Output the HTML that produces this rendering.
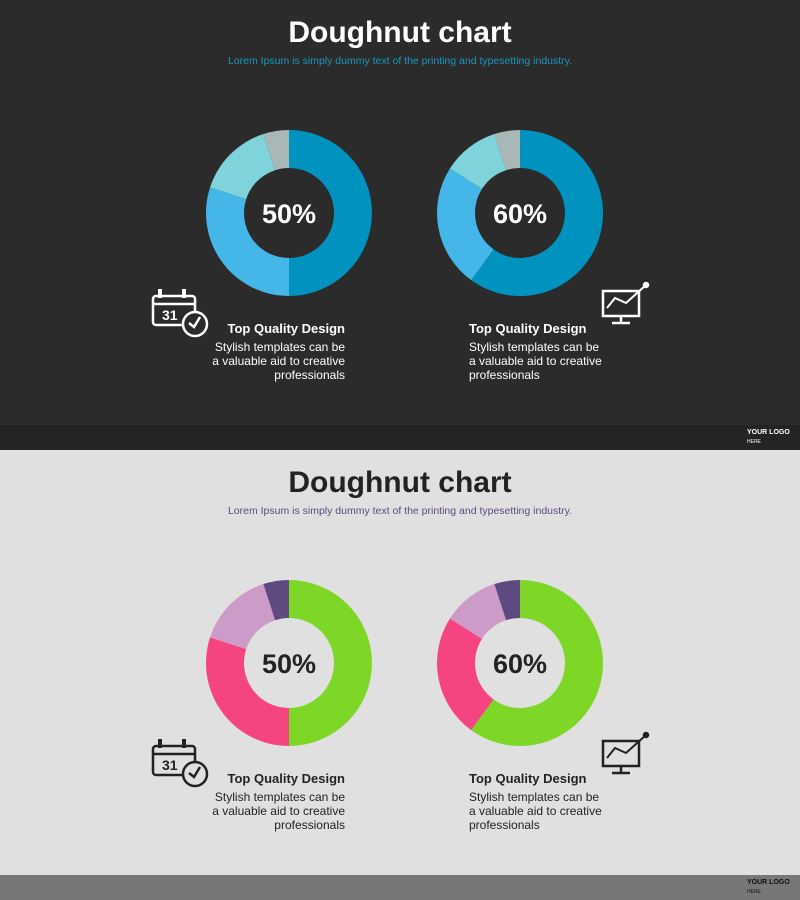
<!DOCTYPE html>
<html><head><meta charset="utf-8"><style>
body{margin:0;width:800px;height:900px;overflow:hidden;font-family:"Liberation Sans",sans-serif}
.slide{position:absolute;left:0;width:800px;height:450px}
.t{position:absolute;left:0;width:800px;text-align:center}
.title{top:16px;font-size:30px;font-weight:bold}
.sub{top:55px;font-size:10.5px}
.h{position:absolute;top:321px;font-size:13px;font-weight:bold}
.p{position:absolute;top:340px;font-size:12px;line-height:14px}
.logo{position:absolute;left:747px;font-size:7px;font-weight:bold;line-height:9px}
</style></head><body>
<div id="s1" class="slide" style="top:0;background:#2b2b2b">
<div class="t title" style="color:#fff">Doughnut chart</div>
<div class="t sub" style="color:#1a95bf">Lorem Ipsum is simply dummy text of the printing and typesetting industry.</div>
<div style="position:absolute;top:425px;left:0;width:800px;height:25px;background:#242424"></div>
<div class="logo" style="top:428px;color:#fff">YOUR LOGO<br><span style="font-weight:normal;font-size:5px">HERE</span></div>
<div class="h" style="right:455px;color:#fff">Top Quality Design</div>
<div class="p" style="right:455px;text-align:right;color:#fff">Stylish templates can be<br>a valuable aid to creative<br>professionals</div>
<div class="h" style="left:469px;color:#fff">Top Quality Design</div>
<div class="p" style="left:469px;color:#fff">Stylish templates can be<br>a valuable aid to creative<br>professionals</div>
</div>
<div id="s2" class="slide" style="top:450px;background:#e0e0e0">
<div class="t title" style="color:#222">Doughnut chart</div>
<div class="t sub" style="color:#5c4a7f">Lorem Ipsum is simply dummy text of the printing and typesetting industry.</div>
<div style="position:absolute;top:425px;left:0;width:800px;height:25px;background:#777"></div>
<div class="logo" style="top:428px;color:#111">YOUR LOGO<br><span style="font-weight:normal;font-size:5px">HERE</span></div>
<div class="h" style="right:455px;color:#222">Top Quality Design</div>
<div class="p" style="right:455px;text-align:right;color:#222">Stylish templates can be<br>a valuable aid to creative<br>professionals</div>
<div class="h" style="left:469px;color:#222">Top Quality Design</div>
<div class="p" style="left:469px;color:#222">Stylish templates can be<br>a valuable aid to creative<br>professionals</div>
</div>
<svg id="svg" width="800" height="900" style="position:absolute;left:0;top:0"></svg>
<script>
const chart1Values=[50,30,15,5];
const chart2Values=[60,24,11,5];
const centerLabels=["50%","60%"];
const darkColors=["#0093bf","#45b6e8","#7fd3da","#a9b7b7"];
const lightColors=["#7ed627","#f54580","#cc9bc8","#5e4a80"];
const NS="http://www.w3.org/2000/svg";
const svg=document.getElementById('svg');
function ang(v){return v/100*2*Math.PI;}
function pt(cx,cy,r,a){return [cx+r*Math.sin(a),cy-r*Math.cos(a)];}
function donut(cx,cy,vals,cols,label,tc,name){
  const R=83,r=45;let acc=0;
  vals.forEach((v,i)=>{
    const a0=ang(acc),a1=ang(acc+v);acc+=v;
    const p1=pt(cx,cy,R,a0),p2=pt(cx,cy,R,a1),p3=pt(cx,cy,r,a1),p4=pt(cx,cy,r,a0);
    const lg=(a1-a0)>Math.PI?1:0;
    const p=document.createElementNS(NS,'path');
    p.setAttribute('d',`M${p1} A${R},${R} 0 ${lg} 1 ${p2} L${p3} A${r},${r} 0 ${lg} 0 ${p4}Z`);
    p.setAttribute('fill',cols[i]);
    
    
    svg.appendChild(p);
  });
  const t=document.createElementNS(NS,'text');
  t.setAttribute('x',cx);t.setAttribute('y',cy+10);t.setAttribute('text-anchor','middle');
  t.setAttribute('font-family','Liberation Sans, sans-serif');t.setAttribute('font-size','27');
  t.setAttribute('font-weight','bold');t.setAttribute('fill',tc);t.textContent=label;
  
  
  svg.appendChild(t);
}
function icons(oy,c,bg){
  const g=document.createElementNS(NS,'g');
  
  
  g.innerHTML=`<g transform="translate(0,${oy})" fill="none" stroke="${c}" stroke-width="2.5">
  <rect x="153" y="296" width="42" height="29" rx="3"/><line x1="153" y1="304" x2="195" y2="304"/>
  <line x1="160" y1="289" x2="160" y2="298" stroke-width="4"/><line x1="184" y1="289" x2="184" y2="298" stroke-width="4"/>
  <text x="162" y="320" font-family="Liberation Sans" font-weight="bold" font-size="14" fill="${c}" stroke="none">31</text>
  <circle cx="195" cy="324" r="12" fill="${bg}"/><polyline points="189,323 194,327 200,317"/>
  <rect x="603" y="291" width="36" height="25"/><line x1="621" y1="316" x2="621" y2="322"/><line x1="612" y1="323" x2="630" y2="323"/>
  <polyline points="607,308 615,298 626,303 646,285" stroke-width="2"/><circle cx="646" cy="285" r="2" fill="${c}"/></g>`;
  svg.appendChild(g);
}
donut(289,213,chart1Values,darkColors,centerLabels[0],"#fff","dark-chart-1");
donut(520,213,chart2Values,darkColors,centerLabels[1],"#fff","dark-chart-2");
donut(289,663,chart1Values,lightColors,centerLabels[0],"#222","light-chart-1");
donut(520,663,chart2Values,lightColors,centerLabels[1],"#222","light-chart-2");
icons(0,"#fff","#2b2b2b");icons(450,"#222","#e0e0e0");
</script>
</body></html>
